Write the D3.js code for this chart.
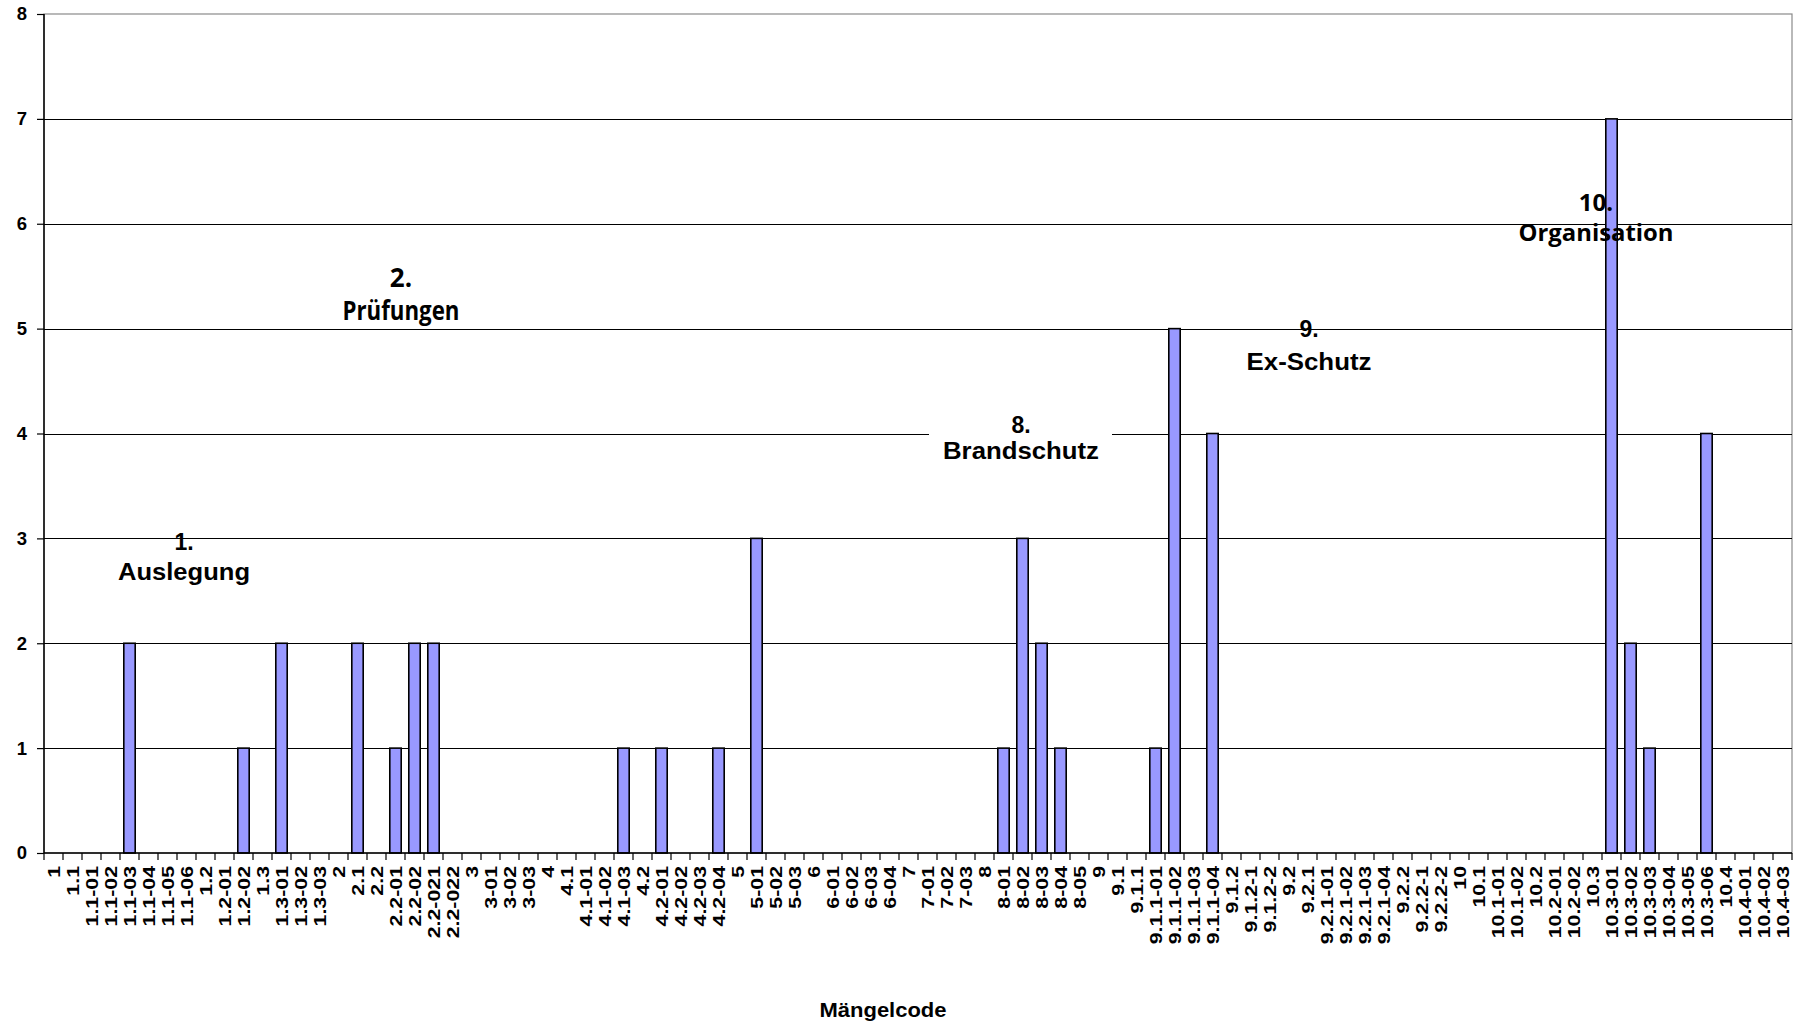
<!DOCTYPE html>
<html>
<head>
<meta charset="utf-8">
<script src="https://cdn.jsdelivr.net/npm/d3@7"></script>
<style>
  html, body { margin: 0; padding: 0; background: #fff; }
  svg { display: block; }
  text { font-family: "Liberation Sans", Arial, sans-serif; font-weight: bold; fill: #000; }
</style>
</head>
<body>
<svg id="chart" width="1805" height="1027"></svg>
<script>
// Defect codes (x categories)
const codes = [
  "1", "1.1", "1.1-01", "1.1-02", "1.1-03", "1.1-04", "1.1-05", "1.1-06",
  "1.2", "1.2-01", "1.2-02", "1.3", "1.3-01", "1.3-02", "1.3-03",
  "2", "2.1", "2.2", "2.2-01", "2.2-02", "2.2-021", "2.2-022",
  "3", "3-01", "3-02", "3-03",
  "4", "4.1", "4.1-01", "4.1-02", "4.1-03", "4.2", "4.2-01", "4.2-02", "4.2-03", "4.2-04",
  "5", "5-01", "5-02", "5-03",
  "6", "6-01", "6-02", "6-03", "6-04",
  "7", "7-01", "7-02", "7-03",
  "8", "8-01", "8-02", "8-03", "8-04", "8-05",
  "9", "9.1", "9.1.1", "9.1.1-01", "9.1.1-02", "9.1.1-03", "9.1.1-04",
  "9.1.2", "9.1.2-1", "9.1.2-2", "9.2", "9.2.1", "9.2.1-01", "9.2.1-02",
  "9.2.1-03", "9.2.1-04", "9.2.2", "9.2.2-1", "9.2.2-2",
  "10", "10.1", "10.1-01", "10.1-02", "10.2", "10.2-01", "10.2-02",
  "10.3", "10.3-01", "10.3-02", "10.3-03", "10.3-04", "10.3-05", "10.3-06",
  "10.4", "10.4-01", "10.4-02", "10.4-03"
];

// Number of findings per code (codes not listed have none)
const countCodes  = ["1.1-03", "1.2-02", "1.3-01", "2.1", "2.2-01", "2.2-02", "2.2-021",
                     "4.1-03", "4.2-01", "4.2-04", "5-01", "8-01", "8-02", "8-03", "8-04",
                     "9.1.1-01", "9.1.1-02", "9.1.1-04", "10.3-01", "10.3-02", "10.3-03", "10.3-06"];
const countValues = [2, 1, 2, 2, 1, 2, 2,
                     1, 1, 1, 3, 1, 3, 2, 1,
                     1, 5, 4, 7, 2, 1, 4];

const yTicks = [0, 1, 2, 3, 4, 5, 6, 7, 8];

// Group captions
const groupNumbers = ["1.", "2.", "8.", "9.", "10."];
const groupNames   = ["Auslegung", "Prüfungen", "Brandschutz", "Ex-Schutz", "Organisation"];

const axisTitle = "Mängelcode";

// ---- drawing ----
const svg = d3.select("#chart");
const plot = { left: 44, right: 1792, top: 14, bottom: 853 };

const valueByCode = new Map(countCodes.map((c, i) => [c, countValues[i]]));
const data = codes.map(c => ({ code: c, value: valueByCode.get(c) || 0 }));

const x = d3.scaleBand()
  .domain(codes)
  .range([plot.left, plot.right])
  .paddingInner(0.4)
  .paddingOuter(0.2);

const y = d3.scaleLinear()
  .domain([0, 8])
  .range([plot.bottom, plot.top]);

// plot area frame
svg.append("rect")
  .attr("x", plot.left).attr("y", plot.top)
  .attr("width", plot.right - plot.left).attr("height", plot.bottom - plot.top)
  .attr("fill", "none").attr("stroke", "#8a8a8a").attr("stroke-width", 1.2);

// horizontal gridlines
svg.append("g").selectAll("line")
  .data(yTicks.filter(t => t > 0 && t < 8))
  .join("line")
  .attr("x1", plot.left).attr("x2", plot.right)
  .attr("y1", d => Math.round(y(d)) + 0.5).attr("y2", d => Math.round(y(d)) + 0.5)
  .attr("stroke", "#000").attr("stroke-width", 1.2);

// white backing behind the fire-protection caption
svg.append("rect")
  .attr("x", 929).attr("y", 410).attr("width", 183).attr("height", 58)
  .attr("fill", "#fff");

// bars
svg.append("g").selectAll("rect")
  .data(data.filter(d => d.value > 0))
  .join("rect")
  .attr("x", d => x(d.code))
  .attr("y", d => y(d.value))
  .attr("width", x.bandwidth())
  .attr("height", d => y(0) - y(d.value))
  .attr("fill", "#9999ff")
  .attr("stroke", "#000")
  .attr("stroke-width", 1.6);

// y axis
const yAxis = svg.append("g")
  .attr("transform", `translate(${plot.left},0)`)
  .call(d3.axisLeft(y).tickValues(yTicks).tickSize(7).tickPadding(10).tickFormat(d3.format("d")));
yAxis.select(".domain").attr("stroke", "#000").attr("stroke-width", 1.5).attr("d", `M0,${plot.top}V${plot.bottom}`);
yAxis.selectAll(".tick line").attr("stroke", "#000").attr("stroke-width", 1.2);
yAxis.selectAll(".tick text")
  .style("font-family", '"Liberation Sans", Arial, sans-serif')
  .style("font-weight", "bold")
  .style("font-size", "18.5px")
  .attr("fill", "#000");

// x axis line
svg.append("line")
  .attr("x1", plot.left).attr("x2", plot.right)
  .attr("y1", plot.bottom).attr("y2", plot.bottom)
  .attr("stroke", "#000").attr("stroke-width", 1.5);

// x ticks sit on category boundaries
const step = x.step();
const boundaries = d3.range(codes.length + 1).map(i => x(codes[0]) - step * x.paddingOuter() + i * step);
svg.append("g").selectAll("line")
  .data(boundaries)
  .join("line")
  .attr("x1", d => d).attr("x2", d => d)
  .attr("y1", plot.bottom).attr("y2", plot.bottom + 7)
  .attr("stroke", "#000").attr("stroke-width", 1.2);

// rotated category labels
svg.append("g").selectAll("text")
  .data(codes)
  .join("text")
  .attr("transform", d => `translate(${x(d) + x.bandwidth() / 2},${plot.bottom + 13}) rotate(-90) scale(1.27,1)`)
  .attr("text-anchor", "end")
  .attr("dy", "0.36em")
  .style("font-size", "16.8px")
  .text(d => d);

// axis title
svg.append("text")
  .attr("x", 883).attr("y", 1017)
  .attr("text-anchor", "middle")
  .attr("textLength", 127).attr("lengthAdjust", "spacingAndGlyphs")
  .style("font-size", "21px")
  .text(axisTitle);

// group captions: number on the first line, name on the second
const captionLayout = [
  { cx: 184,  y1: 550, y2: 580, size: 23, w: 132, font: '"Liberation Sans", Arial, sans-serif' },
  { cx: 401,  y1: 287, y2: 320, size: 26, w: 117, font: '"Open Sans", sans-serif' },
  { cx: 1021, y1: 433, y2: 459, size: 23, w: 156, font: '"Liberation Sans", Arial, sans-serif' },
  { cx: 1309, y1: 337, y2: 370, size: 23, w: 125, font: '"Liberation Sans", Arial, sans-serif' },
  { cx: 1596, y1: 211, y2: 241, size: 24, w: 155, font: '"Open Sans", sans-serif' }
];
const captions = svg.append("g");
groupNames.forEach((name, i) => {
  const L = captionLayout[i];
  const t = captions.append("text")
    .attr("text-anchor", "middle")
    .style("font-family", L.font).style("font-size", L.size + "px");
  t.append("tspan")
    .attr("x", L.cx).attr("y", L.y1)
    .text(groupNumbers[i]);
  t.append("tspan")
    .attr("x", L.cx).attr("y", L.y2)
    .attr("textLength", L.w).attr("lengthAdjust", "spacingAndGlyphs")
    .text(name);
});
</script>
</body>
</html>
